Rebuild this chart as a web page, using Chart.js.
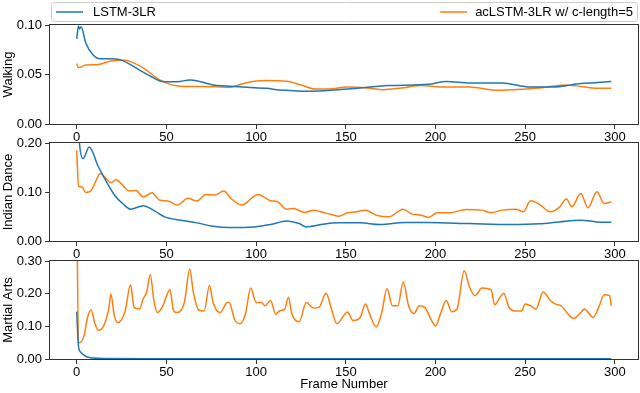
<!DOCTYPE html>
<html>
<head>
<meta charset="utf-8">
<script src="https://cdn.jsdelivr.net/npm/chart.js"></script>
<style>
  body { margin: 0; background: #fff; }
  #wrap { position: relative; width: 640px; height: 393px; }
  #wrap canvas { position: absolute; left: 0; top: 0; }
</style>
</head>
<body>
<div id="wrap">
  <canvas id="walking" width="640" height="393"></canvas>
  <canvas id="indian" width="640" height="393"></canvas>
  <canvas id="martial" width="640" height="393"></canvas>
</div>
<script>
// series names + colours
var seriesNames = ['LSTM-3LR', 'acLSTM-3LR w/ c-length=5'];
var seriesColors = ['#1f77b4', '#ff7f0e'];

var frameTicks = [0, 50, 100, 150, 200, 250, 300];
var walkTicks = [0, 0.05, 0.10];
var indianTicks = [0, 0.10, 0.20];
var martialTicks = [0, 0.10, 0.20, 0.30];

// Walking
var walkBlueFrames = [0, 1, 1.5, 2.5, 5, 9, 13, 18, 24, 29, 35, 41, 46, 50, 56, 63, 69, 76, 83, 95, 106, 113, 117, 128, 151, 174, 196, 206, 219, 237, 253, 265, 281, 298];
var walkBlue = [0.086, 0.099, 0.096, 0.098, 0.082, 0.070, 0.066, 0.066, 0.065, 0.061, 0.0545, 0.0485, 0.0437, 0.0427, 0.0427, 0.0444, 0.0427, 0.0394, 0.0384, 0.037, 0.036, 0.0343, 0.034, 0.033, 0.0354, 0.0388, 0.0401, 0.0429, 0.0415, 0.0415, 0.0374, 0.0374, 0.0408, 0.0429];
var walkOrangeFrames = [0, 1, 5, 12, 19, 26, 30, 37, 46, 53, 60, 71, 85, 94, 105, 117, 126, 133, 140, 151, 162, 171, 181, 192, 203, 219, 235, 244, 258, 272, 281, 290, 298];
var walkOrange = [0.061, 0.057, 0.0595, 0.060, 0.0636, 0.0643, 0.063, 0.0568, 0.0449, 0.0395, 0.038, 0.038, 0.0371, 0.0415, 0.0439, 0.0432, 0.0388, 0.0354, 0.0354, 0.0374, 0.0364, 0.0347, 0.0364, 0.0388, 0.0374, 0.0374, 0.034, 0.0347, 0.0364, 0.0395, 0.038, 0.036, 0.036];

// Indian Dance
var indianBlueFrames = [0, 1.5, 3.5, 7, 12, 17, 21, 26, 30, 37, 44, 49, 58, 67, 76, 85, 99, 108, 117, 124, 128, 137, 146, 158, 169, 183, 196, 219, 242, 258, 269, 281, 290, 298];
var indianBlue = [0.30, 0.20, 0.168, 0.192, 0.152, 0.118, 0.094, 0.075, 0.065, 0.072, 0.060, 0.0493, 0.0425, 0.037, 0.030, 0.0274, 0.0288, 0.0336, 0.041, 0.0356, 0.0288, 0.0342, 0.037, 0.037, 0.0336, 0.0377, 0.0377, 0.0356, 0.0336, 0.035, 0.039, 0.0425, 0.039, 0.0384];
var indianOrangeFrames = [0, 1, 3, 5, 8, 11, 13, 17, 19, 22, 26, 29, 33, 37, 42, 46, 51, 56, 62, 67, 72, 77, 82, 86, 92, 101, 108, 112, 117, 121, 127, 132, 136, 142, 146, 151, 156, 161, 167, 174, 182, 187, 192, 196, 201, 208, 217, 226, 231, 237, 245, 249, 253, 258, 264, 269, 273, 276, 281, 285, 290, 294, 298];
var indianOrange = [0.185, 0.112, 0.11, 0.099, 0.103, 0.125, 0.138, 0.125, 0.119, 0.125, 0.112, 0.102, 0.103, 0.090, 0.0986, 0.0836, 0.0815, 0.0733, 0.087, 0.0815, 0.095, 0.0938, 0.102, 0.087, 0.0733, 0.095, 0.0822, 0.080, 0.065, 0.0664, 0.0582, 0.063, 0.0596, 0.054, 0.0507, 0.0575, 0.0596, 0.063, 0.0527, 0.0493, 0.065, 0.0548, 0.0527, 0.048, 0.0575, 0.0575, 0.0644, 0.063, 0.0575, 0.063, 0.065, 0.0596, 0.082, 0.0747, 0.0596, 0.0685, 0.0856, 0.0699, 0.097, 0.0678, 0.1007, 0.0767, 0.080];

// Martial Arts
var martialBlueFrames = [0, 1, 2, 4, 6, 9, 15, 50, 298];
var martialBlue = [0.145, 0.038, 0.022, 0.012, 0.006, 0.003, 0.0015, 0.001, 0.001];
var martialOrangeFrames = [0, 1, 4, 6, 8, 10, 12, 15, 18, 19, 21, 23, 27, 30, 32, 35, 37, 39, 41, 43, 45, 48, 52, 54, 56, 60, 63, 65, 68, 71, 74, 76, 80, 84, 85, 88, 91, 94, 97, 100, 103, 105, 108, 111, 113, 116, 118, 120, 124, 128, 132, 135, 139, 142, 145, 151, 154, 158, 161, 163, 167, 170, 173, 176, 179, 182, 185, 188, 191, 194, 198, 200, 203, 206, 209, 212, 216, 219, 222, 226, 231, 233, 236, 238, 241, 244, 248, 250, 253, 256, 260, 264, 267, 270, 274, 277, 281, 283, 288, 291, 294, 297, 298];
var martialOrange = [0.5, 0.049, 0.070, 0.127, 0.150, 0.111, 0.088, 0.101, 0.158, 0.199, 0.132, 0.111, 0.147, 0.227, 0.158, 0.153, 0.184, 0.205, 0.259, 0.179, 0.142, 0.163, 0.212, 0.147, 0.142, 0.173, 0.275, 0.205, 0.150, 0.147, 0.225, 0.173, 0.142, 0.173, 0.173, 0.121, 0.108, 0.137, 0.217, 0.173, 0.173, 0.163, 0.179, 0.137, 0.147, 0.153, 0.189, 0.137, 0.114, 0.173, 0.156, 0.158, 0.201, 0.153, 0.108, 0.144, 0.118, 0.127, 0.168, 0.142, 0.098, 0.142, 0.215, 0.163, 0.163, 0.236, 0.163, 0.139, 0.163, 0.158, 0.116, 0.101, 0.142, 0.179, 0.145, 0.153, 0.270, 0.220, 0.194, 0.217, 0.212, 0.166, 0.189, 0.201, 0.158, 0.147, 0.147, 0.168, 0.163, 0.153, 0.205, 0.179, 0.168, 0.163, 0.137, 0.124, 0.142, 0.153, 0.127, 0.158, 0.197, 0.194, 0.163];

// x range like matplotlib's 5% margin around 0..298
var xMin = -14.9, xMax = 312.9;

Chart.defaults.font.family = '"Liberation Sans", Arial, Helvetica, sans-serif';
Chart.defaults.font.size = 13;
Chart.defaults.color = '#000';
Chart.defaults.animation = false;

function toPoints(frames, values) {
  var pts = [];
  var n = Math.min(frames.length, values.length);
  for (var i = 0; i < n; i++) pts.push({ x: frames[i], y: values[i] });
  return pts;
}

// full box around each plot area, like the axes spines
var frameBox = {
  id: 'frameBox',
  afterDraw: function(chart) {
    var a = chart.chartArea, ctx = chart.ctx;
    ctx.save();
    ctx.strokeStyle = '#333';
    ctx.lineWidth = 1;
    ctx.strokeRect(Math.round(a.left) - 0.5, Math.round(a.top) - 0.5, Math.round(a.right - a.left) + 1, Math.round(a.bottom - a.top) + 1);
    ctx.restore();
  }
};

// expanded legend across the top
var topLegend = {
  id: 'topLegend',
  afterDraw: function(chart) {
    var ctx = chart.ctx;
    var left = 51.5, top = 2.5, w = 586, h = 19, r = 3;
    ctx.save();
    ctx.beginPath();
    ctx.moveTo(left + r, top);
    ctx.arcTo(left + w, top, left + w, top + h, r);
    ctx.arcTo(left + w, top + h, left, top + h, r);
    ctx.arcTo(left, top + h, left, top, r);
    ctx.arcTo(left, top, left + w, top, r);
    ctx.closePath();
    ctx.fillStyle = 'rgba(255,255,255,0.8)';
    ctx.fill();
    ctx.strokeStyle = '#cccccc';
    ctx.lineWidth = 1;
    ctx.stroke();

    var cy = 12;
    ctx.font = '13px "Liberation Sans", Arial, sans-serif';
    ctx.textBaseline = 'middle';
    ctx.fillStyle = '#000';
    ctx.lineWidth = 1.5;

    ctx.strokeStyle = seriesColors[0];
    ctx.beginPath(); ctx.moveTo(56, cy); ctx.lineTo(83, cy); ctx.stroke();
    ctx.fillText(seriesNames[0], 93, cy);

    var tw = ctx.measureText(seriesNames[1]).width;
    var tx = 633 - tw;
    ctx.strokeStyle = seriesColors[1];
    ctx.beginPath(); ctx.moveTo(tx - 35, cy); ctx.lineTo(tx - 8, cy); ctx.stroke();
    ctx.fillText(seriesNames[1], tx, cy);
    ctx.restore();
  }
};

function makePanel(id, label, blue, orange, yTicks, yMax, pad, xHeight, xTitle, extraPlugins) {
  var tickGrid = { display: true, drawOnChartArea: false, drawTicks: true, tickLength: 5, color: '#333' };
  return new Chart(document.getElementById(id), {
    type: 'line',
    data: {
      datasets: [
        { label: seriesNames[0], data: blue, borderColor: seriesColors[0] },
        { label: seriesNames[1], data: orange, borderColor: seriesColors[1] }
      ]
    },
    options: {
      responsive: false,
      parsing: false,
      layout: { padding: pad },
      elements: {
        line: { borderWidth: 1.5, cubicInterpolationMode: 'monotone', fill: false },
        point: { radius: 0, hoverRadius: 0 }
      },
      datasets: { line: { clip: 0 } },
      plugins: { legend: { display: false }, tooltip: { enabled: false } },
      events: [],
      scales: {
        x: {
          type: 'linear', min: xMin, max: xMax,
          afterBuildTicks: function(s) { s.ticks = frameTicks.map(function(v) { return { value: v }; }); },
          afterFit: function(s) { s.height = xHeight; },
          ticks: { padding: 1, maxRotation: 0, autoSkip: false, callback: function(v) { return v; } },
          grid: tickGrid,
          border: { display: false },
          title: { display: !!xTitle, text: xTitle || '', padding: { top: 0, bottom: 1 } }
        },
        y: {
          min: 0, max: yMax,
          afterBuildTicks: function(s) { s.ticks = yTicks.map(function(v) { return { value: v }; }); },
          afterFit: function(s) { s.width = 50; },
          ticks: { padding: 3, callback: function(v) { return v.toFixed(2); } },
          grid: tickGrid,
          border: { display: false },
          title: { display: true, text: label, padding: { top: 1, bottom: 0 } }
        }
      }
    },
    plugins: [frameBox].concat(extraPlugins || [])
  });
}

makePanel('walking', 'Walking',
  toPoints(walkBlueFrames, walkBlue), toPoints(walkOrangeFrames, walkOrange),
  walkTicks, 0.10, { top: 25, bottom: 249, left: 0, right: 2 }, 20, null, [topLegend]);

makePanel('indian', 'Indian Dance',
  toPoints(indianBlueFrames, indianBlue), toPoints(indianOrangeFrames, indianOrange),
  indianTicks, 0.20, { top: 143, bottom: 132, left: 0, right: 2 }, 20, null);

makePanel('martial', 'Martial Arts',
  toPoints(martialBlueFrames, martialBlue), toPoints(martialOrangeFrames, martialOrange),
  martialTicks, 0.30, { top: 261, bottom: 0, left: 0, right: 2 }, 34, 'Frame Number');
</script>
</body>
</html>
